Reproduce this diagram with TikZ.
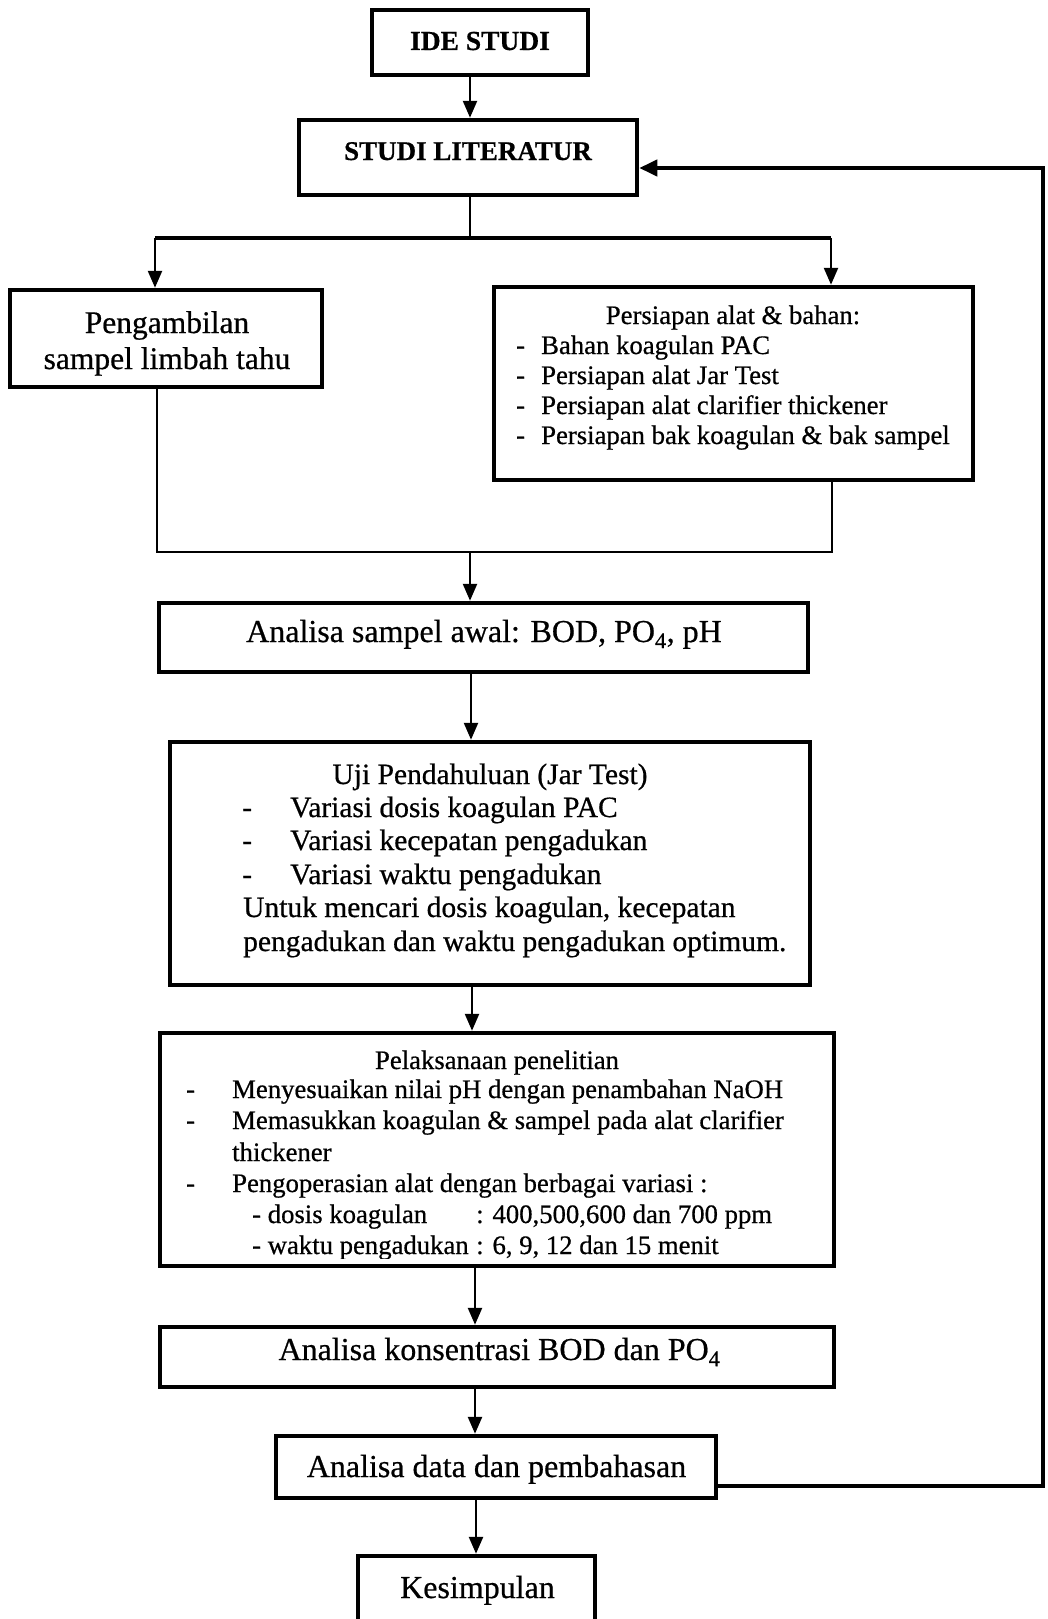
\documentclass[tikz,border=0pt]{standalone}
\usepackage{fontspec}
\setmainfont{Liberation Serif}[FakeBold=0.6]
\usetikzlibrary{arrows.meta}
\newcommand\myfs[1]{\fontsize{#1}{#1}\selectfont}
\begin{document}
\begin{tikzpicture}[x=1pt,y=-1pt,
  box/.style={draw, line width=4.5pt, inner sep=0pt, rectangle},
  conn/.style={line width=2.5pt},
  thk/.style={line width=4pt},
  arr/.style={line width=2.5pt, -{Triangle[width=14pt,length=17pt]}},
  thkarr/.style={line width=4pt, -{Triangle[width=16pt,length=18pt]}},
  txt/.style={inner sep=0pt, anchor=base},
  txl/.style={inner sep=0pt, anchor=base west}]
\useasboundingbox (0,0) rectangle (1047,1619);
\clip (0,0) rectangle (1047,1619);
% boxes
\node[box, minimum width=216pt, minimum height=65pt] (ide) at (480,42.5) {};
\node[box, minimum width=338pt, minimum height=75pt] (lit) at (468,157.5) {};
\node[box, minimum width=312pt, minimum height=97pt] (peng) at (166,338.5) {};
\node[box, minimum width=479pt, minimum height=193pt] (pers) at (733.5,383.5) {};
\node[box, minimum width=649pt, minimum height=69pt] (awal) at (483.5,637.5) {};
\node[box, minimum width=640pt, minimum height=243pt] (uji) at (490,863.5) {};
\node[box, minimum width=674pt, minimum height=233pt] (pel) at (497,1149.5) {};
\node[box, minimum width=674pt, minimum height=60pt] (kons) at (497,1357) {};
\node[box, minimum width=440pt, minimum height=62pt] (data) at (496,1467) {};
\node[box, minimum width=237pt, minimum height=104pt] (kes) at (476.5,1608) {};
% texts
\node[txt, font=\myfs{27.5}\bfseries] (tide) at (480,50) {IDE STUDI};
\node[txt, font=\myfs{27}\bfseries] (tlit) at (468,160) {STUDI LITERATUR};
\node[txt, font=\myfs{31.5}] (tp1) at (167,333) {Pengambilan};
\node[txt, font=\myfs{31.5}] (tp2) at (167,369) {sampel limbah tahu};
\node[txt, font=\myfs{26.7}] (ts0) at (733,324) {Persiapan alat \& bahan:};
\foreach \t/\y [count=\i] in {Bahan koagulan PAC/354, Persiapan alat Jar Test/384,
  Persiapan alat clarifier thickener/414, Persiapan bak koagulan \& bak sampel/444}{
  \node[txl, font=\myfs{26.7}] (tsd\i) at (516,\y) {-};
  \node[txl, font=\myfs{26.7}] (ts\i) at (541,\y) {\t};
}
\node[txt, font=\myfs{32}] (tawal) at (484,642) {Analisa sampel awal: BOD, PO\textsubscript{4}, pH};
\node[txt, font=\myfs{29.5}] (tu0) at (490,784) {Uji Pendahuluan (Jar Test)};
\foreach \t/\y [count=\i] in {Variasi dosis koagulan PAC/817, Variasi kecepatan pengadukan/850,
  Variasi waktu pengadukan/884}{
  \node[txl, font=\myfs{29.5}] (tud\i) at (242,\y) {-};
  \node[txl, font=\myfs{29.5}] (tu\i) at (290,\y) {\t};
}
\node[txl, font=\myfs{29.5}] (tu4) at (243,917) {Untuk mencari dosis koagulan, kecepatan};
\node[txl, font=\myfs{29.5}] (tu5) at (243,951) {pengadukan dan waktu pengadukan optimum.};
\begin{scope}
\clip (162,1035) rectangle (832,1258);
\node[txt, font=\myfs{26.7}] (tl0) at (497,1069) {Pelaksanaan penelitian};
\node[txl, font=\myfs{26.7}] (tld1) at (186,1098) {-};
\node[txl, font=\myfs{26.7}] (tl1) at (232,1098) {Menyesuaikan nilai pH dengan penambahan NaOH};
\node[txl, font=\myfs{26.7}] (tld2) at (186,1129) {-};
\node[txl, font=\myfs{26.7}] (tl2) at (232,1129) {Memasukkan koagulan \& sampel pada alat clarifier};
\node[txl, font=\myfs{26.7}] (tl3) at (232,1161) {thickener};
\node[txl, font=\myfs{26.7}] (tld4) at (186,1192) {-};
\node[txl, font=\myfs{26.7}] (tl4) at (232,1192) {Pengoperasian alat dengan berbagai variasi :};
\node[txl, font=\myfs{26.7}] (tl5) at (252,1223) {- dosis koagulan};
\node[txl, font=\myfs{26.7}] (tl5b) at (476,1223) {: 400,500,600 dan 700 ppm};
\node[txl, font=\myfs{26.7}] (tl6) at (252,1254) {- waktu pengadukan};
\node[txl, font=\myfs{26.7}] (tl6b) at (476,1254) {: 6, 9, 12 dan 15 menit};
\end{scope}
\node[txt, font=\myfs{32}] (tkons) at (499.5,1360) {Analisa konsentrasi BOD dan PO\textsubscript{4}};
\node[txt, font=\myfs{32}] (tdata) at (496.5,1477) {Analisa data dan pembahasan};
\node[txt, font=\myfs{32}] (tkes) at (477.5,1598) {Kesimpulan};
% connectors
\coordinate (sL) at (155,238);
\coordinate (sR) at (831,238);
\coordinate (sM) at (470,238);
\coordinate (jL) at (157,552);
\coordinate (jR) at (832,552);
\coordinate (jM) at (470,552);
\coordinate (fbB) at (1043,1486);
\coordinate (fbT) at (1043,168);
\draw[arr] (ide.south -| sM) -- (lit.north -| sM);
\draw[conn] (lit.south -| sM) -- (sM);
\draw[thk] (sL) -- (sR);
\draw[arr] (sL) -- (peng.north -| sL);
\draw[arr] (sR) -- (pers.north -| sR);
\draw[conn] (peng.south -| jL) -- (jL) -- (jR) -- (pers.south -| jR);
\draw[arr] (jM) -- (awal.north -| jM);
\draw[arr] (awal.south -| 471,0) -- (uji.north -| 471,0);
\draw[arr] (uji.south -| 472,0) -- (pel.north -| 472,0);
\draw[arr] (pel.south -| 475,0) -- (kons.north -| 475,0);
\draw[arr] (kons.south -| 475,0) -- (data.north -| 475,0);
\draw[arr] (data.south -| 476,0) -- (kes.north -| 476,0);
\draw[thkarr] (data.east |- fbB) -- (fbB) -- (fbT) -- (lit.east |- fbT);
\end{tikzpicture}
\end{document}
